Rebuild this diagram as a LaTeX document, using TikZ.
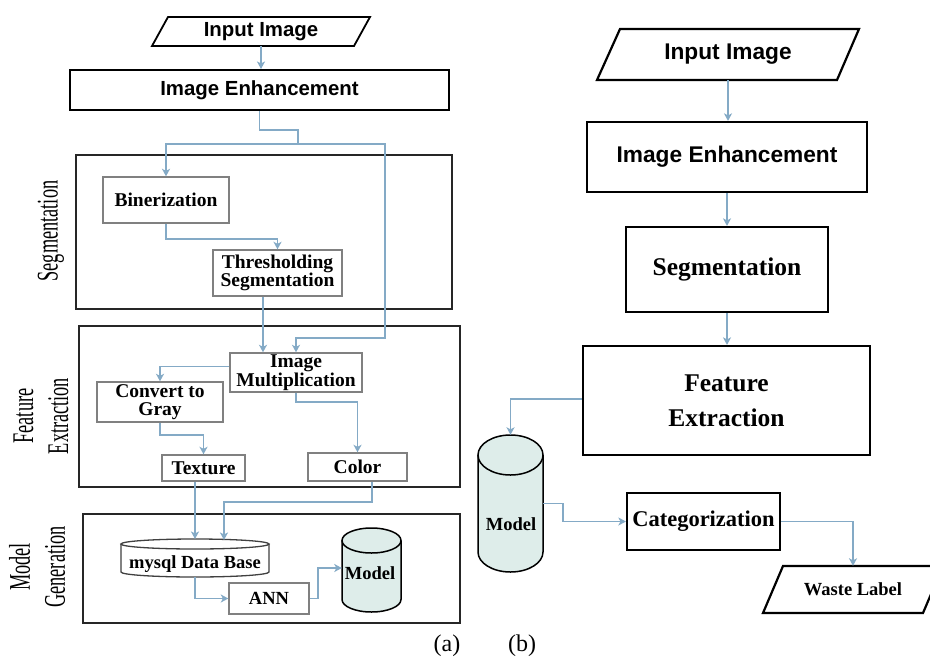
\documentclass[tikz,border=0pt]{standalone}
\usepackage{fontspec}
\setmainfont{Liberation Serif}
\setsansfont{Liberation Sans}
\usetikzlibrary{arrows.meta}
\definecolor{linec}{RGB}{132,170,198}
\definecolor{cylf}{RGB}{222,237,234}
\definecolor{boxg}{RGB}{128,128,128}
\newcommand{\fA}{\sffamily\bfseries\fontsize{20.4}{22}\selectfont}
\newcommand{\fB}{\sffamily\bfseries\fontsize{22.7}{25}\selectfont}
\newcommand{\fS}{\rmfamily\bfseries\fontsize{19.5}{18.5}\selectfont}
\newcommand{\fSs}{\rmfamily\bfseries\fontsize{18.5}{18.5}\selectfont}
\newcommand{\fR}{\rmfamily\bfseries\fontsize{25.5}{35}\selectfont}
\newcommand{\fRot}{\rmfamily\fontsize{30}{35}\selectfont}
\newcommand{\nar}[1]{\scalebox{0.61}[1]{#1}}
% cx, top, bottom, rx, ry, fill
\newcommand{\drawcyl}[6]{%
  \fill[#6] (#1-#4,-#2-#5) -- (#1-#4,-#3+#5) arc[start angle=180,end angle=360,x radius=#4,y radius=#5] -- (#1+#4,-#2-#5) -- cycle;
  \draw[line width=1.5pt] (#1-#4,-#2-#5) -- (#1-#4,-#3+#5) arc[start angle=180,end angle=360,x radius=#4,y radius=#5] -- (#1+#4,-#2-#5);
  \filldraw[fill=#6,line width=1.5pt] (#1,-#2-#5) ellipse[x radius=#4,y radius=#5];
}
\tikzset{
  conn/.style={draw=linec,line width=1.7pt},
  arr/.style={conn,-{Stealth[length=7.5pt,width=8pt,inset=2pt]}},
  bigbox/.style={draw=black,line width=2.2pt,rectangle,inner sep=0pt,align=center},
  frame/.style={draw=black!85,line width=1.9pt,rectangle,inner sep=0pt},
  smallbox/.style={draw=boxg,line width=1.4pt,rectangle,inner sep=0pt,align=center,font=\fS},
  ghost/.style={rectangle,inner sep=0pt,align=center},
  rotlab/.style={rotate=90,align=center,font=\fRot,inner sep=0pt},
}
\begin{document}
\begin{tikzpicture}[x=1pt,y=1pt]
\useasboundingbox (0,0) rectangle (930,-657);
\fill[white] (0,0) rectangle (930,-657);

%================ (a) =================
% frames
\node[frame,minimum width=376,minimum height=154] (segF) at (264,-232) {};
\node[frame,minimum width=381,minimum height=161] (feF) at (269.5,-406.5) {};
\node[frame,minimum width=377,minimum height=109] (mgF) at (271.5,-568.5) {};

\node[rotlab] (labSeg) at (51,-231) {\nar{Segmentation}};
\node[rotlab] (labFE) at (41,-416) {\nar{Feature}\\\nar{Extraction}};
\node[rotlab] (labMG) at (37,-567) {\nar{Model}\\\nar{Generation}};

% input parallelogram
\draw[line width=1.8pt] (168,-17) -- (370,-17) -- (354,-46) -- (152,-46) -- cycle;
\node[ghost,minimum width=190,minimum height=29,font=\fA] (inA) at (261,-31.5) {Input Image};
\node[bigbox,line width=2pt,minimum width=379,minimum height=40,font=\fA] (ieA) at (259.5,-90) {Image Enhancement};

\node[smallbox,minimum width=126,minimum height=46] (binA) at (166,-200) {Binerization};
\node[smallbox,minimum width=129,minimum height=46] (thrA) at (277.5,-273) {Thresholding\\Segmentation};
\node[smallbox,minimum width=132,minimum height=39] (mulA) at (296,-372.5) {Image\\Multiplication};
\node[smallbox,minimum width=126,minimum height=40] (cnvA) at (160,-402) {Convert to\\Gray};
\node[smallbox,minimum width=83,minimum height=26] (texA) at (203.5,-468) {Texture};
\node[smallbox,minimum width=99,minimum height=28] (colA) at (357.5,-467) {Color};

% database cylinder
\fill[white] (121,-544) -- (121,-572) arc[start angle=180,end angle=360,x radius=74,y radius=5] -- (269,-544) -- cycle;
\draw[draw=black!75,line width=1.3pt] (121,-544) -- (121,-572) arc[start angle=180,end angle=360,x radius=74,y radius=5] -- (269,-544);
\draw[draw=black!75,line width=1.3pt] (195,-544) ellipse[x radius=74,y radius=5];
\node[ghost,minimum width=148,minimum height=26,font=\fSs] (dbA) at (195,-564) {mysql Data Base};
\coordinate (dbtop) at (195,-539);
\coordinate (dbtop2) at (224,-540);

\node[smallbox,minimum width=80,minimum height=31,font=\fSs] (annA) at (269,-598.5) {ANN};

\drawcyl{371.5}{528}{612}{29.5}{12.5}{cylf}
\node[ghost,minimum width=59,minimum height=84] (mdlA) at (371.5,-570) {};
\node[ghost,font=\fSs] (mdlAt) at (370,-573) {Model};

% connectors (a)
\coordinate (sp) at (298,-144);
\coordinate (bend) at (385,-338);
\draw[arr] (inA.south) -- (inA.south |- ieA.north);
\draw[conn] (ieA.south) -- ++(0,-19) -| (sp);
\draw[arr] (sp) -| (binA.north);
\draw[arr] (sp) -| (bend) -| (mulA.north);
\draw[arr] (binA.south) -- ++(0,-15) -| (thrA.north);
\draw[arr] ([xshift=-14.5pt]thrA.south) -- ([xshift=-14.5pt]thrA.south |- mulA.north);
\draw[arr] ([yshift=6pt]mulA.west) -| (cnvA.north);
\draw[arr] (cnvA.south) -- ++(0,-12) -| (texA.north);
\draw[arr] (mulA.south) -- ++(0,-9) -| (colA.north);
\draw[arr] (dbtop |- texA.south) -- (dbtop);
\draw[arr] ([xshift=14.5pt]colA.south) -- ++(0,-20) -| (dbtop2);
\draw[arr] (dbA.south) |- (annA.west);
\draw[arr] (annA.east) -- ++(8,0) |- ([yshift=2pt]mdlA.west);

\node[font=\rmfamily\fontsize{24}{24}\selectfont,inner sep=0pt] (capA) at (447,-646) {(a)};

%================ (b) =================
\draw[line width=2.2pt] (620,-29) -- (859,-29) -- (837,-80) -- (597,-80) -- cycle;
\node[ghost,minimum width=240,minimum height=51,font=\fB] (inB) at (728,-54.5) {Input Image};
\node[bigbox,minimum width=280,minimum height=70,font=\fB] (ieB) at (727,-157) {Image Enhancement};
\node[bigbox,minimum width=202,minimum height=85,font=\fR] (segB) at (727,-269.5) {Segmentation};
\node[bigbox,minimum width=287,minimum height=109,font=\fR] (feB) at (726.5,-400.5) {Feature\\Extraction};

\drawcyl{510.5}{435}{572}{32.5}{20}{cylf}
\node[ghost,minimum width=65,minimum height=137] (mdlB) at (510.5,-503.5) {};
\node[ghost,font=\rmfamily\bfseries\fontsize{18.5}{18}\selectfont] (mdlBt) at (511,-524) {Model};

\node[bigbox,minimum width=153,minimum height=57,font=\rmfamily\bfseries\fontsize{22.5}{22}\selectfont] (catB) at (703.5,-521.5) {Categorization};

\draw[line width=2.2pt] (783,-566) -- (943,-566) -- (923,-613) -- (763,-613) -- cycle;
\node[ghost,minimum width=160,minimum height=47,font=\rmfamily\bfseries\fontsize{18.5}{18}\selectfont] (wB) at (853,-589.5) {Waste Label};

\draw[arr] (inB.south) -- (inB.south |- ieB.north);
\draw[arr] (ieB.south) -- (ieB.south |- segB.north);
\draw[arr] (segB.south) -- (segB.south |- feB.north);
\draw[arr] ([yshift=1.5pt]feB.west) -| (mdlB.north);
\draw[arr] (mdlB.east) -- ++(20,0) |- (catB.west);
\draw[arr] (catB.east) -| (wB.north);

\node[font=\rmfamily\fontsize{24}{24}\selectfont,inner sep=0pt] (capB) at (522,-646) {(b)};
\end{tikzpicture}
\end{document}
